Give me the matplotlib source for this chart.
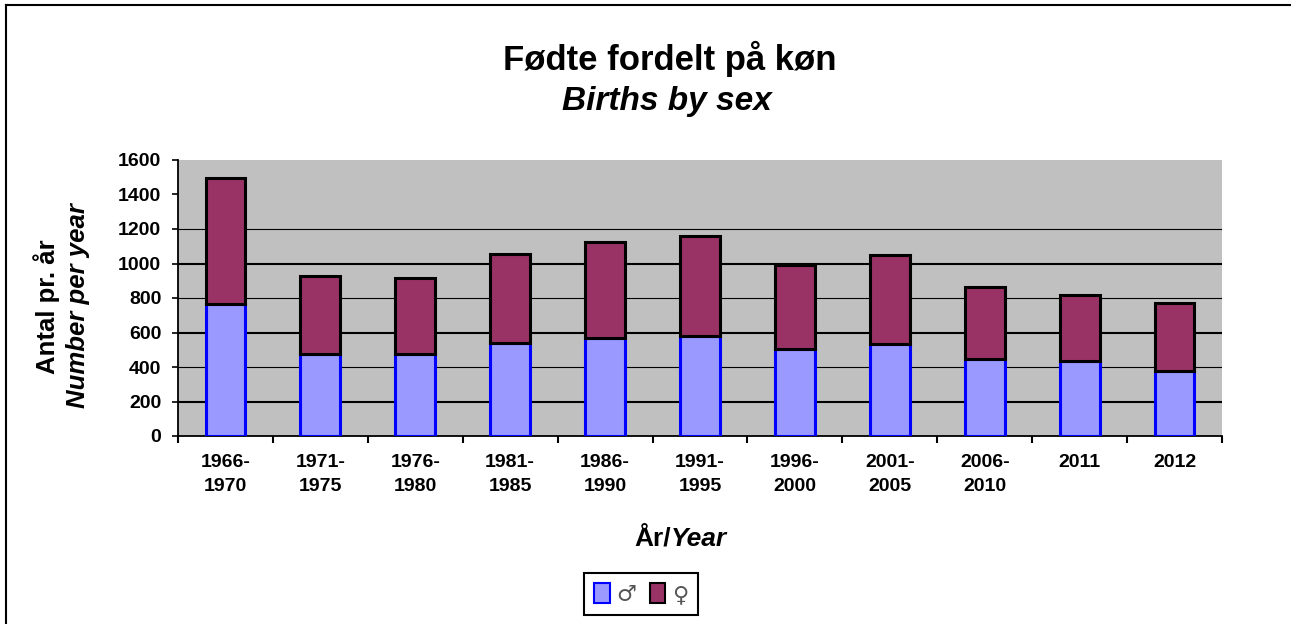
import numpy as np
import matplotlib.pyplot as plt
from matplotlib.patches import Patch
from matplotlib.lines import Line2D

plt.rcParams['font.family'] = ['Liberation Sans', 'DejaVu Sans']

periods = ['1966-\n1970', '1971-\n1975', '1976-\n1980', '1981-\n1985', '1986-\n1990',
           '1991-\n1995', '1996-\n2000', '2001-\n2005', '2006-\n2010', '2011', '2012']
total = [1494, 927, 916, 1055, 1123, 1158, 990, 1048, 862, 816, 771]
boys = [765, 477, 475, 541, 568, 580, 504, 533, 445, 437, 379]
girls = [t - b for t, b in zip(total, boys)]
yticks = [0, 200, 400, 600, 800, 1000, 1200, 1400, 1600]
grid_vals = [200, 400, 600, 800, 1000, 1200]

W, H = 1291, 624
fig = plt.figure(figsize=(W / 100, H / 100), dpi=100)
ax = fig.add_axes([178 / W, 1 - 436 / H, (1222 - 178) / W, (436 - 160) / H])
ax.set_facecolor('#C0C0C0')

# gridlines, alternate thickness like the original picture
for i, v in enumerate(grid_vals):
    lw = 1.5 if i % 2 == 0 else 0.8
    ax.axhline(v, color='black', lw=lw, zorder=1)

x = np.arange(len(periods))
ax.bar(x, boys, width=0.42, color='#9999FF', edgecolor='#0000FF', lw=2.2, zorder=3)
ax.bar(x, girls, bottom=boys, width=0.42, color='#993366', edgecolor='black', lw=2.2, zorder=3)

ax.set_xlim(-0.5, len(periods) - 0.5)
ax.set_ylim(0, 1600)
ax.set_yticks(yticks)
ax.set_yticklabels([str(v) for v in yticks], fontsize=14, fontweight='bold')
ax.tick_params(axis='y', length=4, width=1.2, pad=8)
ax.set_xticks(x)
ax.set_xticklabels(periods, fontsize=14, fontweight='bold', linespacing=1.55)
ax.set_xticks(np.arange(-0.5, len(periods), 1), minor=True)
ax.tick_params(axis='x', which='major', length=0, pad=13)
ax.tick_params(axis='x', which='minor', length=5, width=1.5)
for s in ['top', 'right']:
    ax.spines[s].set_visible(False)
for s in ['left', 'bottom']:
    ax.spines[s].set_linewidth(1.3)

# titles
fig.text(670 / W, 1 - 70 / H, 'Fødte fordelt på køn', ha='center', va='baseline',
         fontsize=25, fontweight='bold')
fig.text(667 / W, 1 - 110 / H, 'Births by sex', ha='center', va='baseline',
         fontsize=24, fontweight='bold', style='italic')

# y label in two styles
fig.text(47 / W, 1 - 307 / H, 'Antal pr. år', rotation=90, ha='center', va='center',
         fontsize=18.5, fontweight='bold')
fig.text(78 / W, 1 - 306 / H, 'Number per year', rotation=90, ha='center', va='center',
         fontsize=18.5, fontweight='bold', style='italic')

# x label
fig.text(671 / W, 1 - 546 / H, 'År/', ha='right', va='baseline', fontsize=19, fontweight='bold')
fig.text(671 / W, 1 - 546 / H, 'Year', ha='left', va='baseline', fontsize=19,
         fontweight='bold', style='italic')

handles = [Patch(facecolor='#9999FF', edgecolor='#0000FF', lw=1.5),
           Patch(facecolor='#993366', edgecolor='black', lw=1.5)]
leg = fig.legend(handles, ['♂', '♀'], ncol=2, loc='center',
                 bbox_to_anchor=(641 / W, 1 - 594 / H),
                 prop={'family': 'DejaVu Sans', 'size': 16},
                 frameon=True, fancybox=False, framealpha=1, edgecolor='black',
                 handlelength=0.7, handleheight=1.0, handletextpad=0.3,
                 columnspacing=0.6, borderpad=0.45)
leg.get_frame().set_linewidth(1.5)
for t in leg.get_texts():
    t.set_color('#555555')

# outer frame
fig.add_artist(Line2D([6 / W, 1], [1 - 5 / H, 1 - 5 / H], color='black', lw=1.5))
fig.add_artist(Line2D([6 / W, 6 / W], [0, 1 - 5 / H], color='black', lw=1.5))

fig.savefig('out.png', dpi=100)
